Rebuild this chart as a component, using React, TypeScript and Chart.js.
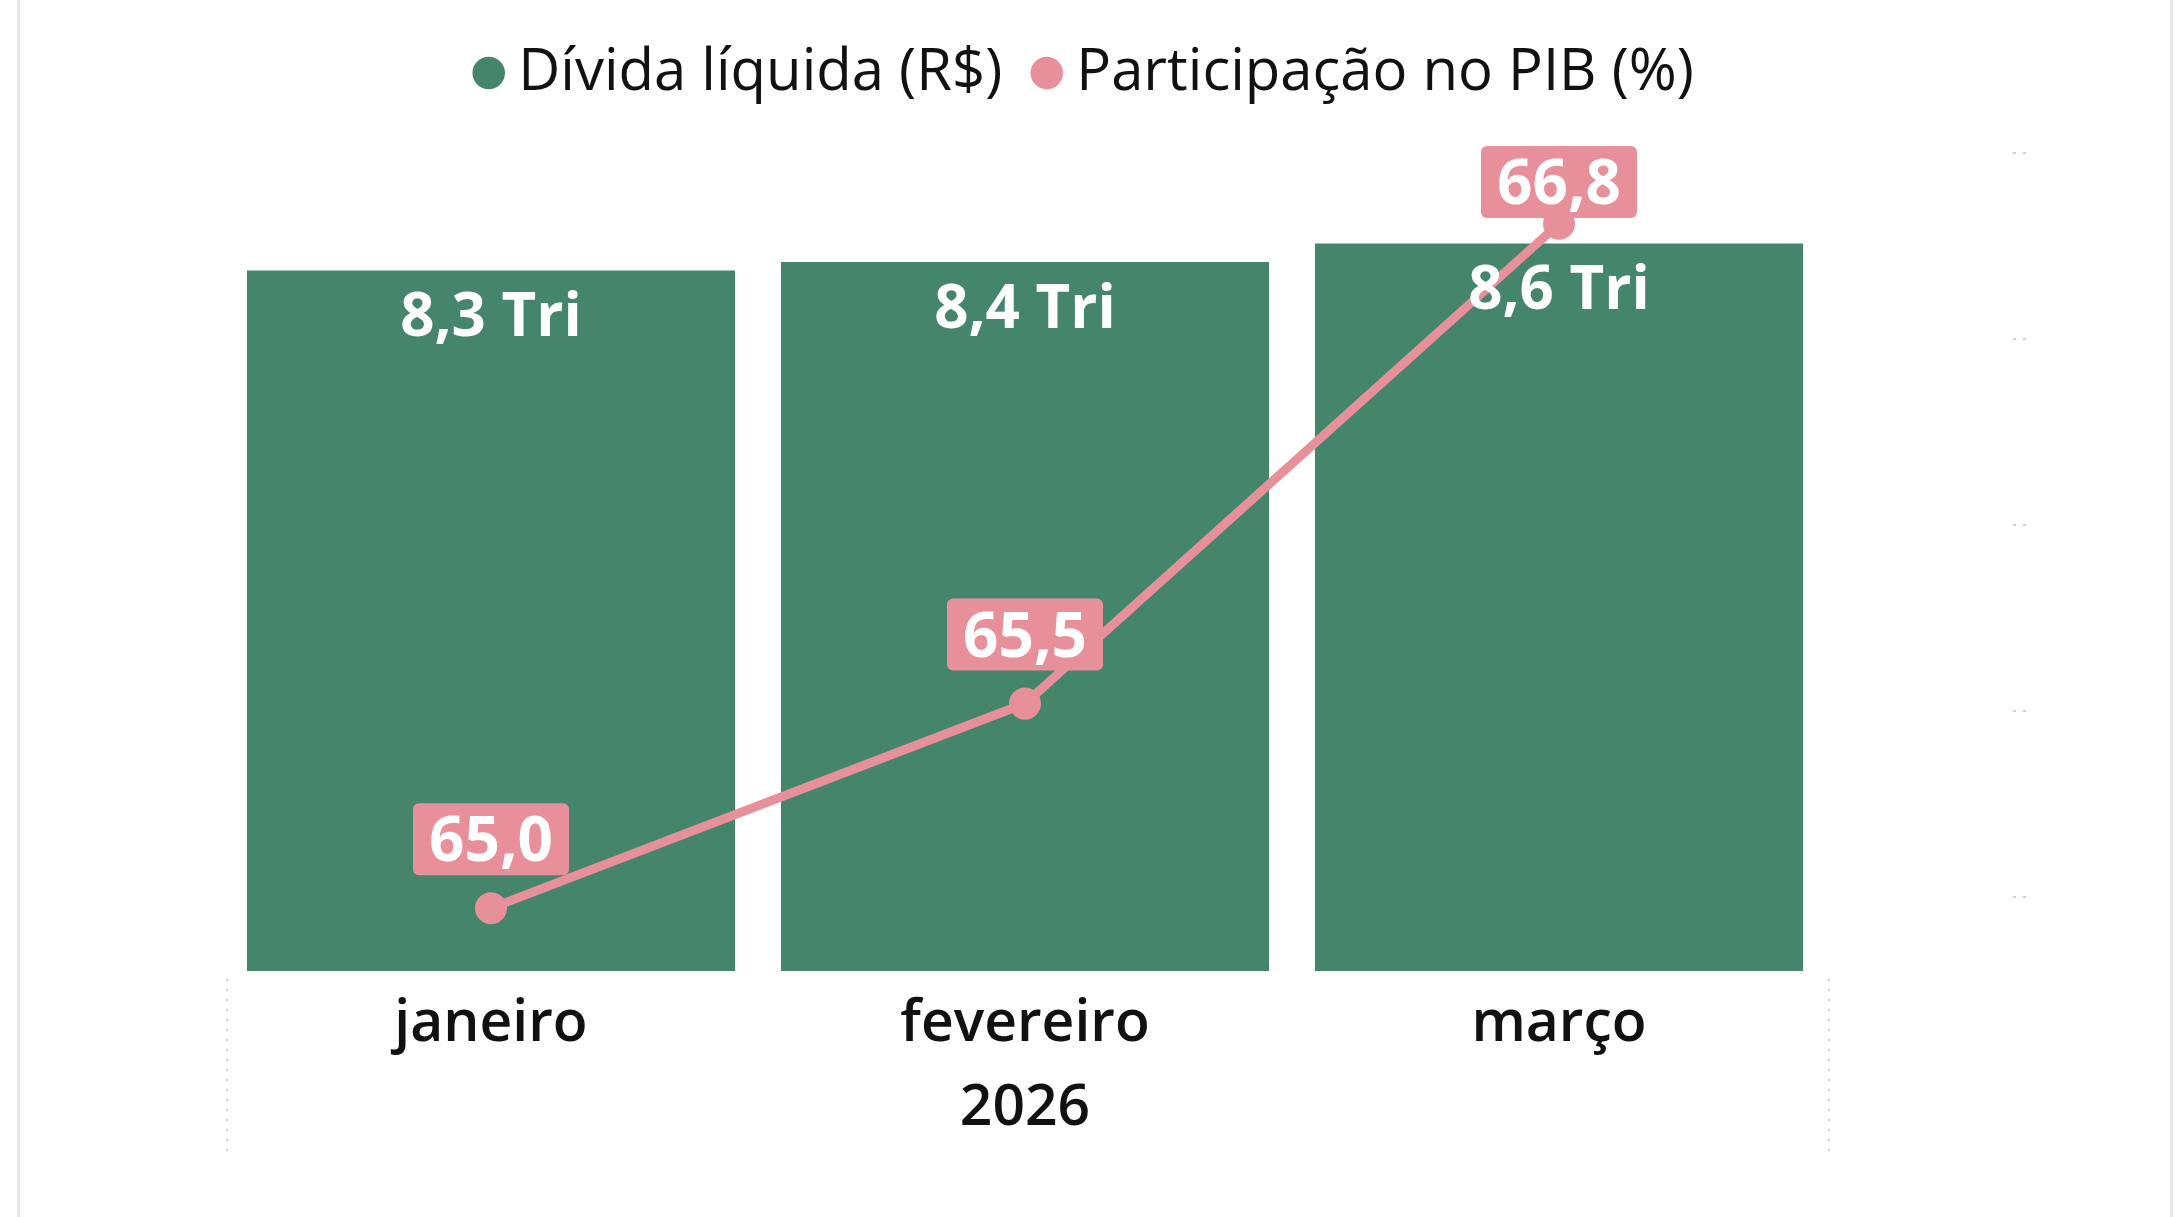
import React, { useEffect, useRef } from "react";
import { Chart, registerables } from "chart.js";

Chart.register(...registerables);

// ---- data ----
const categories = ["janeiro", "fevereiro", "março"];
const yearLabel = "2026";
const seriesNames = ["Dívida líquida (R$)", "Participação no PIB (%)"];
const debtValues = [8.3, 8.4, 8.62]; // R$ trilhões
const gdpShare = [64.97, 65.52, 66.81]; // % do PIB
const shareGridTicks = [65.0, 65.5, 66.0, 66.5, 67.0];

// ---- styles ----
const GREEN = "#44856C";
const PINK = "#E8909A";
const FONT = "'Open Sans', 'Noto Sans', sans-serif";
const W = 2182;
const H = 1217;

const fmt1 = (v: number) => v.toFixed(1).replace(".", ",");

const xLabels = categories.map((c, i) =>
  i === Math.floor(categories.length / 2) ? [c, yearLabel] : c
);

const labelsPlugin = {
  id: "valueLabels",
  afterDatasetsDraw(chart: any) {
    const ctx = chart.ctx as CanvasRenderingContext2D;
    const area = chart.chartArea;
    ctx.save();
    ctx.textAlign = "center";
    ctx.textBaseline = "alphabetic";
    // line labels (boxes)
    ctx.font = `bold 62px ${FONT}`;
    const lineMeta = chart.getDatasetMeta(1);
    lineMeta.data.forEach((pt: any, i: number) => {
      const text = fmt1(gdpShare[i]);
      const w = ctx.measureText(text).width + 32;
      const h = 72;
      let top = pt.y - 33 - h;
      if (top < area.top) top = area.top;
      ctx.fillStyle = PINK;
      ctx.beginPath();
      (ctx as any).roundRect(pt.x - w / 2, top, w, h, 6);
      ctx.fill();
      ctx.fillStyle = "#ffffff";
      ctx.fillText(text, pt.x, top + h / 2 + 22);
    });
    // bar labels
    ctx.font = `bold 60px ${FONT}`;
    const barMeta = chart.getDatasetMeta(0);
    ctx.fillStyle = "#ffffff";
    barMeta.data.forEach((bar: any, i: number) => {
      ctx.fillText(fmt1(debtValues[i]) + " Tri", bar.x, bar.y + 66);
    });
    ctx.restore();
  },
};

const decorPlugin = {
  id: "decor",
  afterDraw(chart: any) {
    const { ctx, chartArea, scales } = chart;
    ctx.save();
    ctx.fillStyle = "#d0d0d0";
    [scales.x.left + 2, scales.x.right + 2].forEach((x: number) => {
      for (let y = chartArea.bottom + 8; y < chartArea.bottom + 180; y += 10) {
        ctx.fillRect(x, y, 2, 2);
      }
    });
    shareGridTicks.forEach((v) => {
      const y = scales.y1.getPixelForValue(v);
      ctx.fillRect(chartArea.right + 187, y - 1, 3, 2);
      ctx.fillRect(chartArea.right + 197, y - 1, 3, 2);
    });
    ctx.restore();
  },
};

export default function App() {
  const ref = useRef<HTMLCanvasElement | null>(null);

  useEffect(() => {
    if (!ref.current) return;
    const chart = new Chart(ref.current, {
      type: "bar",
      data: {
        labels: xLabels as any,
        datasets: [
          {
            type: "bar",
            label: seriesNames[0],
            data: debtValues,
            backgroundColor: GREEN,
            borderWidth: 0,
            barPercentage: 0.914,
            categoryPercentage: 1,
            xAxisID: "x",
            yAxisID: "y",
            order: 1,
          } as any,
          {
            type: "line",
            label: seriesNames[1],
            data: gdpShare,
            borderColor: PINK,
            backgroundColor: PINK,
            borderWidth: 9,
            pointRadius: 16,
            pointHoverRadius: 16,
            pointBorderWidth: 0,
            pointBackgroundColor: PINK,
            tension: 0,
            clip: false,
            xAxisID: "x",
            yAxisID: "y1",
            order: 0,
          } as any,
        ],
      },
      options: {
        responsive: false,
        animation: false,
        devicePixelRatio: 1,
        layout: { padding: 0 },
        plugins: {
          tooltip: { enabled: false },
          legend: {
            display: true,
            position: "top",
            align: "center",
            labels: {
              usePointStyle: true,
              pointStyle: "circle",
              boxWidth: 1,
              boxHeight: 23,
              padding: 44,
              color: "#111111",
              font: { family: FONT, size: 58 },
              sort: (a: any, b: any) => a.datasetIndex - b.datasetIndex,
              generateLabels: (c: any) =>
                (Chart.defaults.plugins.legend.labels as any)
                  .generateLabels(c)
                  .map((l: any) => ({ ...l, lineWidth: 0 })),
            },
          },
        },
        scales: {
          x: {
            type: "category",
            position: "bottom",
            offset: true,
            grid: { display: false },
            border: { display: false },
            ticks: {
              color: "#111111",
              font: { family: FONT, size: 57, weight: "600", lineHeight: "84px" } as any,
              padding: 4,
              maxRotation: 0,
              autoSkip: false,
            },
            afterFit: (s: any) => {
              s.height = 246;
            },
          },
          xTop: {
            type: "category",
            position: "top",
            display: true,
            grid: { display: false },
            border: { display: false },
            ticks: { display: false },
            afterFit: (s: any) => {
              s.height = 34;
            },
          },
          y: {
            position: "left",
            min: 0,
            max: 9.775,
            display: true,
            grid: { display: false },
            border: { display: false },
            ticks: { display: false },
            afterFit: (s: any) => {
              s.width = 224;
            },
          },
          y1: {
            position: "right",
            min: 64.801,
            max: 67.019,
            display: true,
            grid: { display: false },
            border: { display: false },
            ticks: { display: false },
            afterFit: (s: any) => {
              s.width = 356;
            },
          },
        } as any,
      },
      plugins: [labelsPlugin, decorPlugin],
    });
    return () => chart.destroy();
  }, []);

  return (
    <div
      style={{
        position: "fixed",
        left: 0,
        top: 0,
        width: W,
        height: H,
        background: "#ffffff",
        overflow: "hidden",
      }}
    >
      <canvas ref={ref} width={W} height={H} style={{ display: "block", width: W, height: H }} />
      <div
        style={{
          position: "absolute",
          left: 17,
          top: -10,
          width: 2173 - 17 - 6,
          height: H + 20,
          borderLeft: "3px solid #e6e6e6",
          borderRight: "3px solid #e6e6e6",
          pointerEvents: "none",
        }}
      />
    </div>
  );
}
